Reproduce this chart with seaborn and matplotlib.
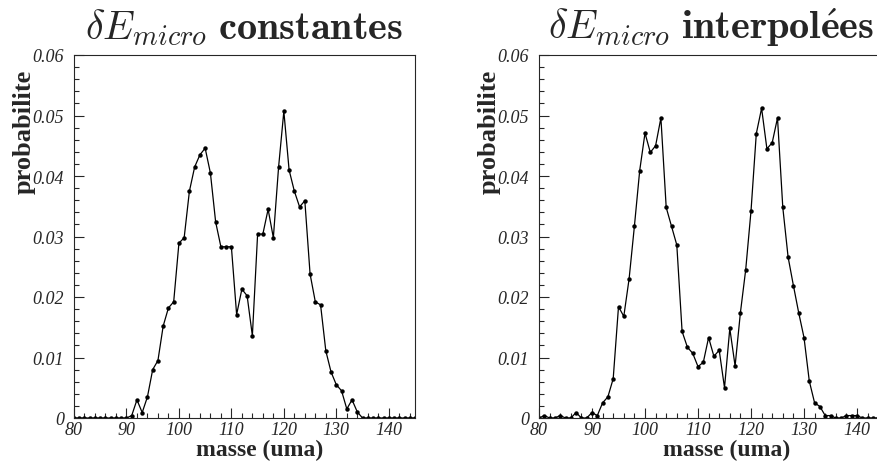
import seaborn as sns
import matplotlib.pyplot as plt
import matplotlib.ticker as mticker
import pandas as pd

masse = list(range(80, 146))

proba_constantes = [
    0, 0, 0, 0, 0, 0, 0, 0, 0, 0, 0,
    0.0004, 0.0030, 0.0009, 0.0035, 0.0080, 0.0095, 0.0152, 0.0182, 0.0192,
    0.0289, 0.0298, 0.0375, 0.0415, 0.0435, 0.0446, 0.0405, 0.0324, 0.0283,
    0.0283, 0.0283, 0.0171, 0.0213, 0.0202, 0.0136, 0.0304, 0.0304, 0.0345,
    0.0298, 0.0415, 0.0507, 0.0410, 0.0375, 0.0349, 0.0359, 0.0238, 0.0192,
    0.0187, 0.0111, 0.0076, 0.0055, 0.0045, 0.0015, 0.0030, 0.0010,
    0, 0, 0, 0, 0, 0, 0, 0, 0, 0, 0,
]

proba_interpolees = [
    0, 0.0004, 0, 0, 0.0004, 0, 0, 0.0009, 0, 0, 0.0009,
    0.0004, 0.0025, 0.0035, 0.0065, 0.0184, 0.0168, 0.0230, 0.0317, 0.0409,
    0.0471, 0.0439, 0.0450, 0.0496, 0.0348, 0.0317, 0.0286, 0.0143, 0.0117,
    0.0107, 0.0085, 0.0092, 0.0133, 0.0102, 0.0112, 0.0050, 0.0148, 0.0086,
    0.0174, 0.0245, 0.0342, 0.0470, 0.0512, 0.0445, 0.0455, 0.0496, 0.0348,
    0.0266, 0.0219, 0.0174, 0.0133, 0.0061, 0.0025, 0.0019, 0.0004,
    0.0004, 0, 0, 0.0004, 0.0004, 0.0004, 0, 0, 0, 0, 0.0010,
]

titres = [r'$\delta E_{micro}$ $\mathbf{constantes}$',
          r'$\delta E_{micro}$ $\mathbf{interpol\acute{e}es}$']

sns.set_style('ticks')
plt.rcParams['font.family'] = ['Liberation Serif', 'DejaVu Serif']
plt.rcParams['mathtext.fontset'] = 'cm'

fig = plt.figure(figsize=(8.78, 4.64), dpi=100)
ax1 = fig.add_axes([74 / 878, 45 / 464, 341 / 878, 363 / 464])
ax2 = fig.add_axes([539 / 878, 45 / 464, 344.5 / 878, 363 / 464])

for ax, valeurs, titre in [(ax1, proba_constantes, titres[0]),
                           (ax2, proba_interpolees, titres[1])]:
    df = pd.DataFrame({'masse': masse, 'proba': valeurs})
    sns.lineplot(data=df, x='masse', y='proba', ax=ax, color='black',
                 linewidth=0.9, marker='o', markersize=3.2,
                 markeredgecolor='black', markeredgewidth=0)
    ax.set_xlim(80, 145)
    ax.set_ylim(0, 0.06)
    ax.xaxis.set_major_locator(mticker.MultipleLocator(10))
    ax.xaxis.set_minor_locator(mticker.MultipleLocator(2))
    ax.yaxis.set_major_locator(mticker.MultipleLocator(0.01))
    ax.yaxis.set_minor_locator(mticker.MultipleLocator(0.002))
    ax.yaxis.set_major_formatter(mticker.FuncFormatter(
        lambda v, p: '0' if abs(v) < 1e-9 else f'{v:.2f}'))
    ax.tick_params(which='major', direction='in', length=7, width=0.8,
                   labelsize=13, top=False, right=False)
    ax.tick_params(axis='y', which='major', pad=7)
    ax.tick_params(axis='x', which='major', pad=2)
    ax.tick_params(which='minor', direction='in', length=3.5, width=0.8,
                   top=False, right=False)
    for lab in ax.get_xticklabels() + ax.get_yticklabels():
        lab.set_fontstyle('italic')
    for s in ax.spines.values():
        s.set_linewidth(0.8)
    ax.set_xlabel('masse (uma)', fontsize=17, fontweight='bold')
    ax.xaxis.set_label_coords(0.545, -0.058)
    ax.set_ylabel('probabilite', fontsize=19, fontweight='bold', loc='top')
    ax.yaxis.set_label_coords(-0.112, 0.961)
    ax.set_title(titre, fontsize=29, pad=12)

fig.savefig('out.png', dpi=100)
